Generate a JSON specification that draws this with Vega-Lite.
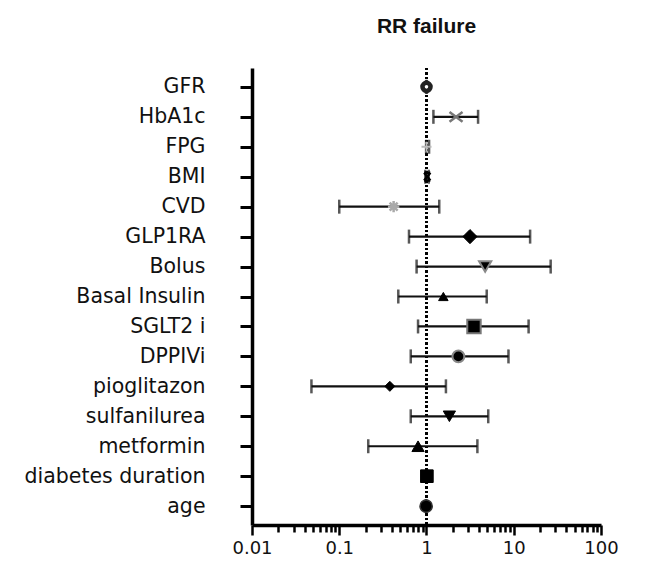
{
  "$schema": "https://vega.github.io/schema/vega-lite/v6.json",
  "width": 349,
  "height": 457,
  "autosize": {"type": "none"},
  "padding": {"left": 252, "top": 68, "right": 51, "bottom": 39},
  "background": "white",
  "title": {"text": "RR  failure", "font": "Liberation Sans", "fontSize": 21, "fontWeight": "bold", "color": "#111", "anchor": "middle", "offset": 30},
  "config": {"view": {"stroke": null}},
  "data": {"values": [
    {"var": "GFR", "est": 1.0, "lo": 0.99, "hi": 1.01},
    {"var": "HbA1c", "est": 2.18, "lo": 1.2, "hi": 3.9},
    {"var": "FPG", "est": 1.0, "lo": 0.99, "hi": 1.07},
    {"var": "BMI", "est": 1.02, "lo": 0.97, "hi": 1.06},
    {"var": "CVD", "est": 0.42, "lo": 0.1, "hi": 1.4},
    {"var": "GLP1RA", "est": 3.15, "lo": 0.63, "hi": 15.4},
    {"var": "Bolus", "est": 4.7, "lo": 0.77, "hi": 26.5},
    {"var": "Basal Insulin", "est": 1.56, "lo": 0.475, "hi": 4.9},
    {"var": "SGLT2 i", "est": 3.5, "lo": 0.8, "hi": 14.8},
    {"var": "DPPIVi", "est": 2.32, "lo": 0.66, "hi": 8.7},
    {"var": "pioglitazon", "est": 0.38, "lo": 0.048, "hi": 1.67},
    {"var": "sulfanilurea", "est": 1.83, "lo": 0.66, "hi": 5.1},
    {"var": "metformin", "est": 0.8, "lo": 0.215, "hi": 3.83},
    {"var": "diabetes duration", "est": 1.01, "lo": 1.0, "hi": 1.02},
    {"var": "age", "est": 0.99, "lo": 0.98, "hi": 1.0}
  ]},
  "resolve": {"axis": {"x": "independent"}},
  "encoding": {
    "y": {"field": "var", "type": "nominal", "sort": null, "title": null,
      "scale": {"type": "point", "padding": 0.63},
      "axis": {"labelFont": "DejaVu Sans", "labelFontSize": 20.5, "labelLimit": 400, "labelColor": "#111", "labelPadding": 35, "tickSize": 12, "tickWidth": 3, "tickColor": "black", "domainColor": "black", "domainWidth": 3.5}}
  },
  "layer": [
    {
      "mark": {"type": "rule", "strokeDash": [2, 2.5], "strokeWidth": 2, "color": "black"},
      "encoding": {
        "y": null,
        "x": {"datum": 1, "type": "quantitative", "scale": {"type": "log", "domain": [0.01, 100], "nice": false},
          "axis": {"orient": "bottom", "title": null, "values": [0.02,0.03,0.04,0.05,0.06,0.07,0.08,0.09,0.2,0.3,0.4,0.5,0.6,0.7,0.8,0.9,2,3,4,5,6,7,8,9,20,30,40,50,60,70,80,90], "labels": false, "domain": false, "tickSize": 7, "tickWidth": 2.5, "tickColor": "black", "grid": false}}
      }
    },
    {
      "mark": {"type": "rule", "strokeWidth": 2.2, "color": "#111"},
      "encoding": {
        "x": {"field": "lo", "type": "quantitative", "axis": null},
        "x2": {"field": "hi"}
      }
    },
    {
      "mark": {"type": "tick", "size": 14, "thickness": 2.5, "color": "#111", "orient": "vertical"},
      "encoding": {"x": {"field": "lo", "type": "quantitative", "axis": null}}
    },
    {
      "mark": {"type": "tick", "size": 14, "thickness": 2.5, "color": "#111", "orient": "vertical"},
      "encoding": {"x": {"field": "hi", "type": "quantitative", "axis": null}}
    },
    {
      "mark": {"type": "point", "opacity": 1, "filled": true},
      "encoding": {
        "x": {"field": "est", "type": "quantitative",
          "axis": {"orient": "bottom", "title": null, "values": [0.01, 0.1, 1, 10, 100], "format": "~g", "labelFont": "DejaVu Sans", "labelFontSize": 18, "labelColor": "#111", "labelPadding": 4, "tickSize": 10, "tickWidth": 2.5, "tickColor": "black", "domainColor": "black", "domainWidth": 3.5, "grid": false, "labelFlush": false}},
        "shape": {"field": "var", "type": "nominal", "legend": null, "scale": {
          "domain": ["GFR","HbA1c","FPG","BMI","CVD","GLP1RA","Bolus","Basal Insulin","SGLT2 i","DPPIVi","pioglitazon","sulfanilurea","metformin","diabetes duration","age"],
          "range": ["circle","M-1,-0.75L1,0.75M-1,0.75L1,-0.75","M-1,0L1,0M0,-1L0,1","M-0.8,-1L0.8,1M-0.8,1L0.8,-1M-0.8,-1L0.8,-1M-0.8,1L0.8,1","M-1,0L1,0M0,-1L0,1M-0.7,-0.7L0.7,0.7M-0.7,0.7L0.7,-0.7","diamond","triangle-down","triangle-up","square","circle","diamond","triangle-down","triangle-up","square","circle"]}},
        "fill": {"field": "var", "type": "nominal", "legend": null, "scale": {
          "domain": ["GFR","HbA1c","FPG","BMI","CVD","GLP1RA","Bolus","Basal Insulin","SGLT2 i","DPPIVi","pioglitazon","sulfanilurea","metformin","diabetes duration","age"],
          "range": ["white","#777","#bbb","black","#aaa","black","black","black","black","black","black","black","black","black","black"]}},
        "stroke": {"field": "var", "type": "nominal", "legend": null, "scale": {
          "domain": ["GFR","HbA1c","FPG","BMI","CVD","GLP1RA","Bolus","Basal Insulin","SGLT2 i","DPPIVi","pioglitazon","sulfanilurea","metformin","diabetes duration","age"],
          "range": ["#222","#777","#bbb","black","#aaa","black","#888","black","#777","#888","black","black","black","black","#333"]}},
        "strokeWidth": {"field": "var", "type": "nominal", "legend": null, "scale": {"type": "ordinal",
          "domain": ["GFR","HbA1c","FPG","BMI","CVD","GLP1RA","Bolus","Basal Insulin","SGLT2 i","DPPIVi","pioglitazon","sulfanilurea","metformin","diabetes duration","age"],
          "range": [4.5, 2.5, 2, 2.5, 2.5, 1, 2, 1, 2, 2, 1, 1, 1, 1, 1.5]}},
        "size": {"field": "var", "type": "nominal", "legend": null, "scale": {"type": "ordinal",
          "domain": ["GFR","HbA1c","FPG","BMI","CVD","GLP1RA","Bolus","Basal Insulin","SGLT2 i","DPPIVi","pioglitazon","sulfanilurea","metformin","diabetes duration","age"],
          "range": [65, 170, 100, 60, 130, 200, 150, 90, 180, 140, 100, 150, 150, 160, 150]}}
      }
    }
  ]
}
